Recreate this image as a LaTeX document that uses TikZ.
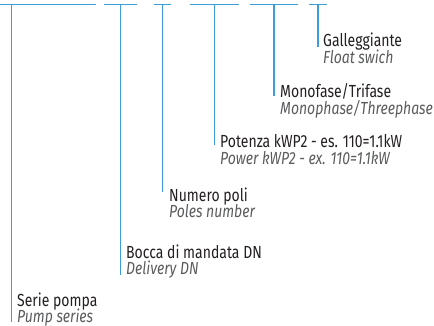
\documentclass[tikz,border=0pt]{standalone}
\usepackage{fontspec}
\setmainfont{Fira Sans}[FakeStretch=0.8]
\usepackage{tikz}
\definecolor{lblue}{HTML}{3D9DD9}
\definecolor{tdark}{HTML}{231F20}
\definecolor{tgrey}{HTML}{5A5B5D}

\begin{document}
\begin{tikzpicture}[x=1pt,y=-1pt]
\tikzstyle{leader}=[draw=lblue, line width=1.3pt]
\tikzstyle{bar}=[draw=lblue, line width=1.5pt]
\tikzstyle{it}=[inner sep=0pt, anchor=base west, text=tdark,
  font=\fontsize{17.5}{18}\selectfont]
\tikzstyle{en}=[it, text=tgrey, yshift=-16.5pt,
  font=\fontsize{17.5}{18}\selectfont\itshape]
\useasboundingbox (0,0) rectangle (434,326);

% top bars
\coordinate (s1) at (0,4.5);   \coordinate (e1) at (96,4.5);
\coordinate (s2) at (104,4.5); \coordinate (e2) at (137,4.5);
\coordinate (s3) at (154,4.5); \coordinate (e3) at (171,4.5);
\coordinate (s4) at (190,4.5); \coordinate (e4) at (239,4.5);
\coordinate (s5) at (250,4.5); \coordinate (e5) at (298,4.5);
\coordinate (s6) at (309,4.5); \coordinate (e6) at (327,4.5);
\draw[bar] (s1) -- (e1);
\draw[bar] (s2) -- (e2);
\draw[bar] (s3) -- (e3);
\draw[bar] (s4) -- (e4);
\draw[bar] (s5) -- (e5);
\draw[bar] (s6) -- (e6);

% labels
\node[it] (serie) at (17,306) {Serie pompa};
\node[en] (serie-en) at (serie.base west) {Pump series};
\node[it] (bocca) at (126,258) {Bocca di mandata DN};
\node[en] (bocca-en) at (bocca.base west) {Delivery DN};
\node[it] (poli) at (169,201) {Numero poli};
\node[en] (poli-en) at (poli.base west) {Poles number};
\node[it] (potenza) at (220,148) {Potenza kWP2 - es. 110=1.1kW};
\node[en] (potenza-en) at (potenza.base west) {Power kWP2 - ex. 110=1.1kW};
\node[it] (fase) at (280,98) {Monofase/Trifase};
\node[en] (fase-en) at (fase.base west) {Monophase/Threephase};
\node[it] (gall) at (323,47) {Galleggiante};
\node[en] (gall-en) at (gall.base west) {Float swich};

% leaders
\coordinate (t1) at (11.5,4.5);  \coordinate (b1) at (11.5,322);
\coordinate (t2) at (120.5,4.5); \coordinate (b2) at (120.5,275);
\coordinate (t3) at (162.5,4.5); \coordinate (b3) at (162.5,192);
\coordinate (t4) at (214.5,4.5); \coordinate (b4) at (214.5,145);
\coordinate (t5) at (274,4.5);   \coordinate (b5) at (274,96);
\coordinate (t6) at (318,4.5);   \coordinate (b6) at (318,47);
\draw[leader] (t1) -- (b1);
\draw[leader] (t2) -- (b2);
\draw[leader] (t3) -- (b3);
\draw[leader] (t4) -- (b4);
\draw[leader] (t5) -- (b5);
\draw[leader] (t6) -- (b6);
\end{tikzpicture}
\end{document}
